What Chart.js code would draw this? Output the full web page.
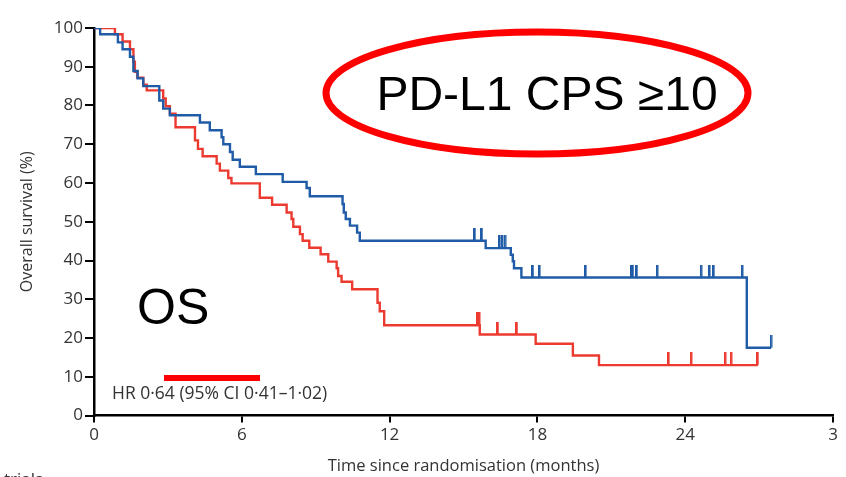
<!DOCTYPE html>
<html>
<head>
<meta charset="utf-8">
<script src="https://cdn.jsdelivr.net/npm/chart.js@4/dist/chart.umd.min.js"></script>
<style>
  html, body { margin: 0; padding: 0; background: #fff; overflow: hidden; }
</style>
</head>
<body>
<canvas id="km" width="846" height="477"></canvas>
<script>
// Kaplan-Meier OS, PD-L1 CPS >=10
const blueTime = [0, 0.25, 0.97, 1.16, 1.46, 1.6, 1.77, 2.0, 2.65, 2.81, 3.08, 4.3, 4.7, 5.18, 5.25, 5.52, 5.63, 5.92, 6.57, 7.66, 8.63, 8.76, 10.09, 10.14, 10.22, 10.39, 10.68, 10.79, 15.9, 16.92, 17.0, 17.05, 17.35, 26.5, 27.49];
const blueSurv = [100, 98.4, 96.3, 94.5, 92.6, 88.9, 87, 85, 81.3, 79.2, 77.5, 75.6, 73.6, 71.8, 70, 68, 66, 64.2, 62.3, 60.3, 58.7, 56.6, 54.6, 52.4, 50.7, 49, 47.2, 45.1, 43.2, 41.5, 39.8, 38, 35.6, 17.5, 17.5];
const blueCensor = [15.46, 15.75, 16.47, 16.58, 16.69, 17.82, 18.09, 19.96, 21.81, 21.88, 22.04, 22.87, 24.65, 24.99, 25.16, 26.32, 27.49];

const redTime = [0, 0.85, 1.16, 1.46, 1.6, 1.66, 1.76, 2.0, 2.14, 2.81, 2.91, 3.08, 3.31, 4.1, 4.22, 4.41, 4.98, 5.11, 5.45, 5.58, 6.73, 7.23, 7.82, 8.02, 8.09, 8.36, 8.47, 8.74, 9.2, 9.51, 9.85, 9.91, 10.05, 10.48, 11.51, 11.6, 11.78, 15.66, 17.93, 19.44, 20.5, 26.95];
const redSurv = [100, 98.4, 96.5, 94.5, 91.3, 88.7, 87.2, 85.4, 83.9, 81.8, 79.8, 77.9, 74.4, 71, 68.8, 66.9, 65, 63.2, 61.3, 59.9, 56.2, 54.4, 52.4, 50.7, 48.7, 46.8, 45.1, 43.3, 41.6, 39.7, 38, 36, 34.5, 32.6, 29.1, 26.9, 23.3, 20.9, 18.5, 15.5, 13, 13];
const redCensor = [15.58, 15.62, 15.64, 16.4, 17.17, 23.33, 24.25, 25.63, 25.87, 26.95];

const xTicks = [0, 6, 12, 18, 24, 30];
const xTickLabels = ['0', '6', '12', '18', '24', '3'];
const yTicks = [0, 10, 20, 30, 40, 50, 60, 70, 80, 90, 100];

const BLUE = '#1f5ba6';
const RED = '#ec3a30';

function survAt(times, surv, t) {
  let s = surv[0];
  for (let i = 0; i < times.length; i++) {
    if (times[i] <= t) s = surv[i];
  }
  return s;
}

// small vertical tick sitting on top of the curve
function censorMark(color) {
  const c = document.createElement('canvas');
  c.width = 3; c.height = 26;
  const g = c.getContext('2d');
  g.fillStyle = color;
  g.fillRect(0, 0, 2.5, 13);
  return c;
}

const extras = {
  id: 'extras',
  afterDraw(chart) {
    const ctx = chart.ctx;
    ctx.save();
    ctx.strokeStyle = '#ff0000';
    ctx.lineWidth = 7;
    ctx.beginPath();
    ctx.ellipse(537, 93, 211, 61, 0, 0, Math.PI * 2);
    ctx.stroke();

    ctx.fillStyle = '#000';
    ctx.font = '48px "Liberation Sans", Arial, sans-serif';
    ctx.textAlign = 'center';
    ctx.textBaseline = 'alphabetic';
    ctx.fillText('PD-L1 CPS \u226510', 547, 110);

    ctx.textAlign = 'left';
    ctx.font = '50px "Liberation Sans", Arial, sans-serif';
    ctx.fillText('OS', 137, 324);

    ctx.fillStyle = '#ff0000';
    ctx.fillRect(164, 375, 96, 6);

    ctx.fillStyle = '#333';
    ctx.font = '17.5px "Open Sans", sans-serif';
    ctx.fillText('HR 0\u00b764 (95% CI 0\u00b741\u20131\u00b702)', 112, 399);

    ctx.font = '17px "Open Sans", sans-serif';
    ctx.fillText('trials', 4, 485);
    ctx.restore();
  }
};

const ctx = document.getElementById('km').getContext('2d');
new Chart(ctx, {
  type: 'line',
  data: {
    datasets: [
      {
        data: blueTime.map((t, i) => ({ x: t, y: blueSurv[i] })),
        borderColor: BLUE,
        borderWidth: 2.4,
        stepped: true,
        pointRadius: 0,
        fill: false
      },
      {
        data: redTime.map((t, i) => ({ x: t, y: redSurv[i] })),
        borderColor: RED,
        borderWidth: 2.4,
        stepped: true,
        pointRadius: 0,
        fill: false
      },
      {
        type: 'scatter',
        data: blueCensor.map(t => ({ x: t, y: survAt(blueTime, blueSurv, t) })),
        pointStyle: censorMark(BLUE),
        showLine: false
      },
      {
        type: 'scatter',
        data: redCensor.map(t => ({ x: t, y: survAt(redTime, redSurv, t) })),
        pointStyle: censorMark(RED),
        showLine: false
      }
    ]
  },
  options: {
    responsive: false,
    animation: false,
    layout: { padding: { top: 28, right: 13, left: 0, bottom: 0 } },
    plugins: { legend: { display: false }, tooltip: { enabled: false } },
    scales: {
      x: {
        type: 'linear',
        min: 0,
        max: 30,
        afterFit: s => { s.height = 61.5; },
        afterBuildTicks: s => { s.ticks = xTicks.map(v => ({ value: v })); },
        ticks: {
          callback: (v) => xTickLabels[xTicks.indexOf(v)],
          color: '#333',
          font: { family: '"Open Sans", sans-serif', size: 17 },
          padding: 2,
          maxRotation: 0
        },
        grid: { drawOnChartArea: false, color: '#000', lineWidth: 2, tickLength: 7 },
        border: { color: '#000', width: 2.5 },
        title: {
          display: true,
          text: 'Time since randomisation (months)',
          color: '#333',
          font: { family: '"Open Sans", sans-serif', size: 16.5 },
          padding: { top: 0, bottom: 1 }
        }
      },
      y: {
        min: 0,
        max: 100,
        afterFit: s => { s.width = 94; },
        afterBuildTicks: s => { s.ticks = yTicks.map(v => ({ value: v })); },
        ticks: {
          color: '#333',
          font: { family: '"Open Sans", sans-serif', size: 17 },
          padding: 2
        },
        grid: { drawOnChartArea: false, color: '#000', lineWidth: 2, tickLength: 9 },
        border: { color: '#000', width: 2.5 },
        title: {
          display: true,
          text: 'Overall survival (%)',
          color: '#333',
          font: { family: '"Open Sans", sans-serif', size: 16 },
          padding: { top: 18, bottom: 0 }
        }
      }
    }
  },
  plugins: [extras]
});
</script>
</body>
</html>
